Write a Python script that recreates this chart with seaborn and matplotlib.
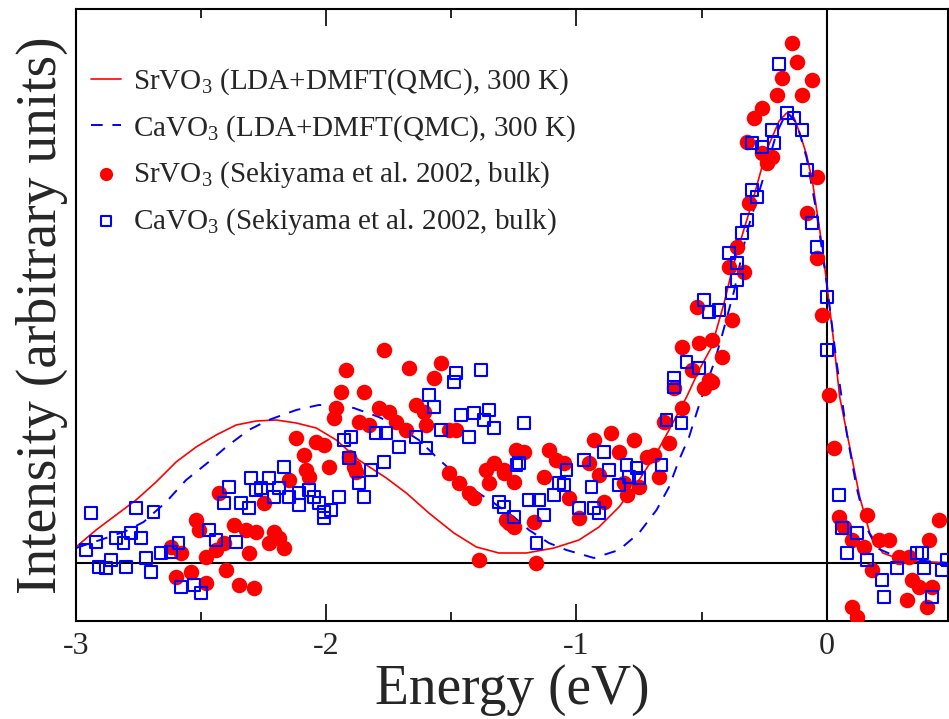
import pandas as pd
import matplotlib
matplotlib.use("Agg")
import matplotlib.pyplot as plt
import seaborn as sns
from matplotlib.ticker import MultipleLocator

# ---------------- data ----------------
# LDA+DMFT(QMC) curves
sr_calc_x = [-3.00, -2.92, -2.84, -2.76, -2.68, -2.60, -2.52, -2.44, -2.36, -2.28,
             -2.20, -2.12, -2.04, -1.96, -1.87, -1.76, -1.68, -1.59, -1.49, -1.40,
             -1.31, -1.20, -1.09, -0.99, -0.91, -0.83, -0.75, -0.68, -0.63, -0.56,
             -0.51, -0.46, -0.41, -0.375, -0.335, -0.295, -0.24, -0.19, -0.16, -0.13,
             -0.108, -0.08, -0.056, -0.016, 0.024, 0.052, 0.092, 0.132, 0.172, 0.224,
             0.30, 0.42, 0.49]
sr_calc_y = [0.16, 0.33, 0.48, 0.63, 0.81, 1.01, 1.16, 1.28, 1.38, 1.42,
             1.43, 1.40, 1.35, 1.23, 1.03, 0.85, 0.70, 0.50, 0.30, 0.16,
             0.10, 0.10, 0.15, 0.23, 0.36, 0.56, 0.83, 1.10, 1.33, 1.66,
             1.93, 2.16, 2.60, 2.96, 3.30, 3.63, 4.13, 4.42, 4.50, 4.45,
             4.30, 4.08, 3.80, 3.13, 2.30, 1.66, 1.16, 0.66, 0.30, 0.10,
             0.03, 0.01, 0.00]

ca_calc_x = [-3.00, -2.88, -2.80, -2.73, -2.64, -2.56, -2.47, -2.40, -2.31, -2.23,
             -2.12, -2.03, -1.95, -1.89, -1.79, -1.71, -1.63, -1.56, -1.49, -1.41,
             -1.33, -1.25, -1.19, -1.11, -1.04, -0.93, -0.83, -0.75, -0.68, -0.63,
             -0.59, -0.55, -0.52, -0.49, -0.45, -0.42, -0.37, -0.32, -0.28, -0.24,
             -0.20, -0.16, -0.12, -0.08, -0.04, 0.00, 0.04, 0.08, 0.12, 0.16,
             0.20, 0.30, 0.49]
ca_calc_y = [0.15, 0.25, 0.32, 0.41, 0.61, 0.83, 1.01, 1.16, 1.33, 1.43,
             1.53, 1.58, 1.57, 1.55, 1.46, 1.36, 1.23, 1.06, 0.90, 0.73,
             0.60, 0.46, 0.33, 0.20, 0.13, 0.05, 0.13, 0.30, 0.53, 0.76,
             1.03, 1.26, 1.50, 1.73, 2.00, 2.26, 2.72, 3.30, 3.63, 3.96,
             4.30, 4.51, 4.40, 4.05, 3.50, 2.80, 2.00, 1.30, 0.75, 0.35,
             0.15, 0.04, 0.00]

# Sekiyama et al. 2002 bulk spectra
sr_exp_x = [-1.77, -1.92, -1.67, -1.54, -1.57, -1.94, -1.85, -1.97, -1.96, -1.79,
            -1.75, -1.64, -1.61, -1.87, -1.83, -1.72, -1.68, -1.60, -1.51, -1.48,
            -2.12, -2.04, -2.01, -2.09, -1.99, -2.08, -2.07, -2.15, -1.91, -1.89,
            -1.88, -2.43, -2.25, -2.52, -2.51, -2.37, -2.32, -2.28, -2.21, -2.19,
            -2.23, -2.17, -2.41, -2.44, -2.48, -2.31, -2.62, -2.58, -2.60, -2.54,
            -2.48, -2.40, -2.35, -2.29, -1.39, -1.51, -1.47, -1.43, -1.41, -1.36,
            -1.33, -1.35, -1.29, -1.24, -1.28, -1.25,
            -1.21, -1.29, -1.25, -1.27, -1.17, -1.16, -1.11, -1.08, -1.05, -1.13,
            -1.03, -0.99, -0.95, -0.93, -0.91, -0.89, -0.86, -0.83, -0.81, -0.80,
            -0.77, -0.75, -0.72, -0.69, -0.67, -0.65, -0.63, -0.61, -0.58, -0.49,
            -0.46,
            0.01, 0.03, 0.05, 0.07, 0.10, 0.16, 0.15, 0.18, 0.21, 0.25,
            0.29, 0.33, 0.34, 0.32, 0.37, 0.40, 0.42, 0.41, 0.45, 0.10, 0.12,
            -0.14, -0.12, -0.06, -0.18, -0.20, -0.10, -0.26, -0.29, -0.32, -0.26,
            -0.22, -0.24, -0.04, -0.31, -0.08, -0.04, -0.36, -0.39, -0.33, -0.52,
            -0.38, -0.02, -0.58, -0.51, -0.46, -0.42, -0.54, -0.47]
sr_exp_y = [2.13, 1.93, 1.95, 2.00, 1.85, 1.71, 1.71, 1.45, 1.55, 1.55,
            1.51, 1.58, 1.51, 1.41, 1.38, 1.41, 1.33, 1.38, 1.33, 1.33,
            1.25, 1.21, 1.18, 1.08, 0.96, 0.93, 0.86, 0.83, 1.06, 0.96,
            0.91, 0.70, 0.60, 0.43, 0.33, 0.38, 0.33, 0.31, 0.31, 0.25,
            0.20, 0.15, 0.20, 0.13, 0.06, 0.10, 0.16, 0.10, -0.14, -0.09,
            -0.20, -0.07, -0.22, -0.25, 0.03, 0.90, 0.80, 0.70, 0.65, 0.93,
            1.00, 0.80, 0.90, 1.13, 0.43, 0.36,
            1.11, 0.93, 0.81, 0.40, 0.41, 0.00, 1.13, 1.03, 1.00, 0.86,
            0.65, 0.45, 1.00, 1.23, 0.88, 0.61, 1.30, 1.11, 0.80, 0.68,
            1.23, 0.76, 1.06, 1.08, 0.86, 1.41, 1.20, 1.75, 1.55, 1.75,
            1.81,
            1.68, 1.15, 0.46, 0.36, 0.23, 0.48, 0.16, -0.07, 0.23, 0.23,
            0.06, 0.06, -0.17, -0.37, -0.24, -0.44, -0.24, 0.23, 0.43, -0.44, -0.54,
            5.20, 5.01, 4.83, 4.85, 4.68, 4.68, 4.55, 4.45, 4.21, 4.10,
            4.06, 4.00, 3.86, 3.60, 3.50, 3.05, 3.16, 2.96, 2.91, 2.56,
            2.43, 2.48, 2.16, 2.20, 2.23, 2.06, 1.93, 1.83]

ca_exp_x = [-2.94, -2.96, -2.92, -2.91, -2.88, -2.86, -2.84, -2.81, -2.78, -2.74,
            -2.76, -2.80, -2.69, -2.72, -2.70, -2.66, -2.62, -2.59, -2.58, -2.53,
            -2.50, -2.47, -2.44, -2.41, -2.39, -2.36, -2.34, -2.31, -2.30, -2.28,
            -2.26, -2.23, -2.21, -2.17, -2.19, -2.15, -2.11, -2.11, -2.07, -2.05,
            -2.03, -2.01, -2.01, -1.98, -1.95, -1.93, -1.91, -1.90, -1.87, -1.85,
            -1.82, -1.80, -1.77, -1.76, -1.71, -1.64, -1.60, -1.59, -1.57, -1.54,
            -1.49, -1.48, -1.46, -1.43, -1.41, -1.38, -1.37, -1.35, -1.33, -1.31,
            -1.29, -1.24,
            -1.21, -1.23, -1.25, -1.19, -1.15, -1.13, -1.16, -1.09, -1.07, -1.04,
            -1.05, -0.99, -0.97, -0.94, -0.93, -0.91, -0.89, -0.87, -0.83, -0.80,
            -0.79, -0.76, -0.75, -0.66, -0.64, -0.58, -0.61,
            0.05, 0.06, 0.08, 0.12, 0.16, 0.22, 0.23, 0.28, 0.36, 0.38,
            0.39, 0.42, 0.46, 0.48,
            -0.19, -0.16, -0.13, -0.10, -0.22, -0.30, -0.26, -0.21, -0.08, -0.28,
            -0.30, -0.32, -0.34, -0.06, -0.04, -0.39, -0.36, -0.36, -0.38, -0.49,
            -0.47, -0.43, 0.00, -0.56, -0.51, -0.61, 0.00]
ca_exp_y = [0.50, 0.13, 0.21, -0.04, -0.05, 0.03, 0.25, 0.20, 0.30, 0.25,
            0.55, -0.04, 0.51, 0.05, -0.09, 0.10, 0.11, 0.20, -0.24, -0.22,
            -0.30, 0.33, 0.23, 0.60, 0.76, 0.21, 0.60, 0.55, 0.85, 0.73,
            0.75, 0.85, 0.66, 0.96, 0.75, 0.66, 0.70, 0.58, 0.73, 0.66,
            0.60, 0.51, 0.45, 0.53, 0.66, 1.23, 1.05, 1.26, 0.80, 0.66,
            0.93, 1.30, 1.01, 1.30, 1.16, 1.26, 1.15, 1.68, 1.56, 1.33,
            1.81, 1.90, 1.48, 1.26, 1.50, 1.93, 1.43, 1.53, 1.35, 0.61,
            0.56, 0.98,
            1.40, 1.00, 0.46, 0.63, 0.63, 0.48, 0.20, 0.68, 0.80, 0.93,
            0.78, 0.55, 1.03, 0.76, 0.55, 0.50, 1.11, 0.93, 0.78, 0.98,
            0.86, 0.95, 0.85, 0.98, 1.43, 1.40, 1.76,
            0.68, 0.35, 0.10, 0.30, 0.03, -0.17, -0.34, -0.05, 0.10, 0.10,
            -0.05, -0.34, -0.07, 0.03,
            4.99, 4.50, 4.45, 4.33, 4.33, 4.20, 4.16, 4.20, 3.93, 3.66,
            3.73, 3.43, 3.30, 3.40, 3.16, 3.10, 3.00, 2.83, 2.70, 2.63,
            2.51, 2.53, 2.66, 2.01, 1.95, 1.85, 2.13]

labels = ["SrVO$_3$ (LDA+DMFT(QMC), 300 K)",
          "CaVO$_3$ (LDA+DMFT(QMC), 300 K)",
          "SrVO$_3$ (Sekiyama et al. 2002, bulk)",
          "CaVO$_3$ (Sekiyama et al. 2002, bulk)"]

sr_calc = pd.DataFrame({"E": sr_calc_x, "I": sr_calc_y})
ca_calc = pd.DataFrame({"E": ca_calc_x, "I": ca_calc_y})
sr_exp = pd.DataFrame({"E": sr_exp_x, "I": sr_exp_y})
ca_exp = pd.DataFrame({"E": ca_exp_x, "I": ca_exp_y})

# ---------------- style ----------------
sns.set_style("ticks")
plt.rcParams['font.family'] = ['Liberation Serif', 'DejaVu Serif']
plt.rcParams['mathtext.fontset'] = 'custom'
plt.rcParams['mathtext.rm'] = 'Liberation Serif'
plt.rcParams['mathtext.it'] = 'Liberation Serif:italic'
plt.rcParams['axes.unicode_minus'] = False

fig = plt.figure(figsize=(9.49, 7.19), dpi=100)
ax = fig.add_axes([0.0801, 0.1363, 0.9189, 0.8512])

# zero lines
ax.axhline(0, color='black', lw=1.5, zorder=1)
ax.axvline(0, color='black', lw=1.5, zorder=1)

# calculated spectra
sns.lineplot(data=sr_calc, x="E", y="I", sort=False, color='#ff0000', lw=1.2,
             label=labels[0], ax=ax, zorder=2)
sns.lineplot(data=ca_calc, x="E", y="I", sort=False, color='#0000ff', lw=1.4,
             dashes=False, label=labels[1], ax=ax, zorder=2)
ax.lines[-1].set_dashes([6, 5])

# experiment
sns.scatterplot(data=sr_exp, x="E", y="I", marker='o', s=125, color='#ff0000',
                linewidth=0, label=labels[2], ax=ax, zorder=3)
sns.scatterplot(data=ca_exp, x="E", y="I", marker='s', s=72, facecolor='none',
                edgecolor='#0000ff', linewidth=1.5, label=labels[3], ax=ax, zorder=4)

ax.set_xlim(-3, 0.485)
ax.set_ylim(-0.58, 5.54)

ax.xaxis.set_major_locator(MultipleLocator(1))
ax.xaxis.set_minor_locator(MultipleLocator(0.5))
ax.set_yticks([])
ax.tick_params(axis='x', which='both', direction='in', top=True, bottom=True,
               width=1.4, labelsize=23, pad=8)
ax.tick_params(axis='x', which='major', length=12)
ax.tick_params(axis='x', which='minor', length=6.5)
for sp in ax.spines.values():
    sp.set_linewidth(1.5)
    sp.set_color('black')

ax.set_xlabel("Energy (eV)", fontsize=40, labelpad=2)
ax.set_ylabel("Intensity (arbitrary units)", fontsize=40, labelpad=6)

leg = ax.legend(loc='upper left', bbox_to_anchor=(0.0, 0.93), frameon=False,
                fontsize=21, handlelength=1.05, handletextpad=0.4,
                labelspacing=0.55, borderaxespad=0.2, borderpad=0.3,
                markerscale=0.85)

fig.savefig("out.png", dpi=100)
